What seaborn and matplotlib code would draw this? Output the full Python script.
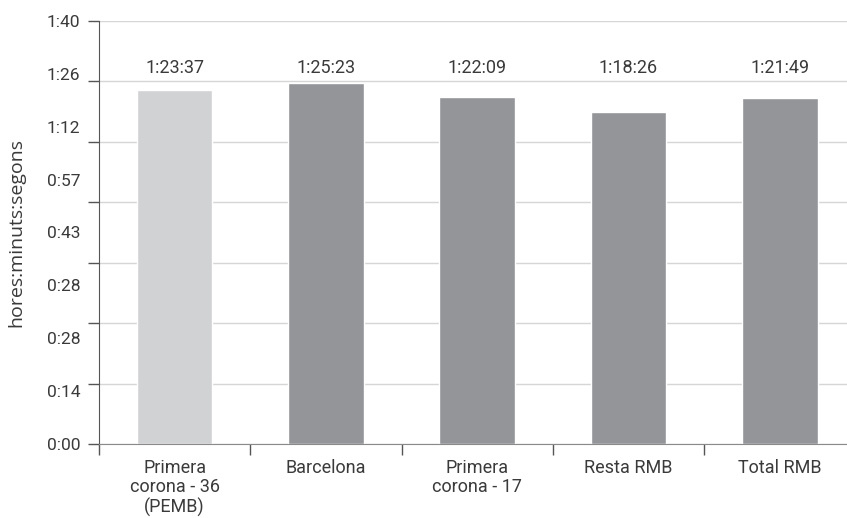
import numpy as np
import matplotlib
matplotlib.use("Agg")
import matplotlib.pyplot as plt
import seaborn as sns
import pandas as pd

# data
categories = ["Primera\ncorona - 36\n(PEMB)", "Barcelona", "Primera\ncorona - 17", "Resta RMB", "Total RMB"]
value_labels = ["1:23:37", "1:25:23", "1:22:09", "1:18:26", "1:21:49"]
bar_colors = ["#d1d2d4", "#939598", "#939598", "#939598", "#939598"]
y_tick_labels = ["0:00", "0:14", "0:28", "0:28", "0:43", "0:57", "1:12", "1:26", "1:40"]


def to_minutes(s):
    h, m, sec = [int(p) for p in s.split(":")]
    return h * 60 + m + sec / 60.0


minutes = [to_minutes(v) for v in value_labels]
df = pd.DataFrame({"cat": categories, "min": minutes})

sns.set_style("white")
plt.rcParams["font.family"] = ["Roboto", "DejaVu Sans"]

fig = plt.figure(figsize=(8.47, 5.18), dpi=100)
ax = fig.add_axes([99 / 847, 1 - 444 / 518, 1 - 99 / 847 + 0.01, (444 - 21) / 518])

sns.barplot(data=df, x="cat", y="min", hue="cat", palette=bar_colors,
            width=0.5, legend=False, ax=ax, saturation=1)

ax.set_ylim(0, 100)
ax.set_xlim(-0.5, 4.5)

# gridlines / tick marks at 7 equal steps, labels at 8 equal steps (as in the source)
ax.yaxis.remove_overlapping_locs = False
ax.set_yticks(np.linspace(0, 100, 8))
ax.set_yticklabels([])
ax.set_yticks(np.linspace(0, 100, 9), minor=True)
ax.set_yticklabels(y_tick_labels, minor=True)
ax.tick_params(axis="y", which="major", direction="out", length=8, width=1, color="#555555", left=True)
ax.tick_params(axis="y", which="minor", length=0, pad=13.5, labelsize=12.5, labelcolor="#3a3a3a")
ax.yaxis.grid(True, which="major", color="#d6d6d6", linewidth=1)
ax.set_axisbelow(True)

ax.set_xticks(np.arange(-0.5, 4.0, 1.0))
ax.set_xticklabels([])
ax.set_xticks(range(len(categories)), minor=True)
ax.set_xticklabels(categories, minor=True, linespacing=1.1)
ax.tick_params(axis="x", which="major", direction="out", length=8, width=1, color="#555555", bottom=True)
ax.tick_params(axis="x", which="minor", length=0, pad=10.5, labelsize=13, labelcolor="#3a3a3a")
ax.set_xlabel("")
ax.set_ylabel("hores:minuts:segons", fontsize=14, color="#3a3a3a", family=["Open Sans", "DejaVu Sans"])
ax.yaxis.set_label_coords(-0.097, 0.5)

for i, lab in enumerate(value_labels):
    ax.text(i, 88.9, lab, ha="center", va="center", fontsize=13, color="#3a3a3a")

for s in ["top", "right"]:
    ax.spines[s].set_visible(False)
ax.spines["left"].set_color("#555555")
ax.spines["bottom"].set_color("#8a8a8a")

fig.savefig("out.png", dpi=100)
